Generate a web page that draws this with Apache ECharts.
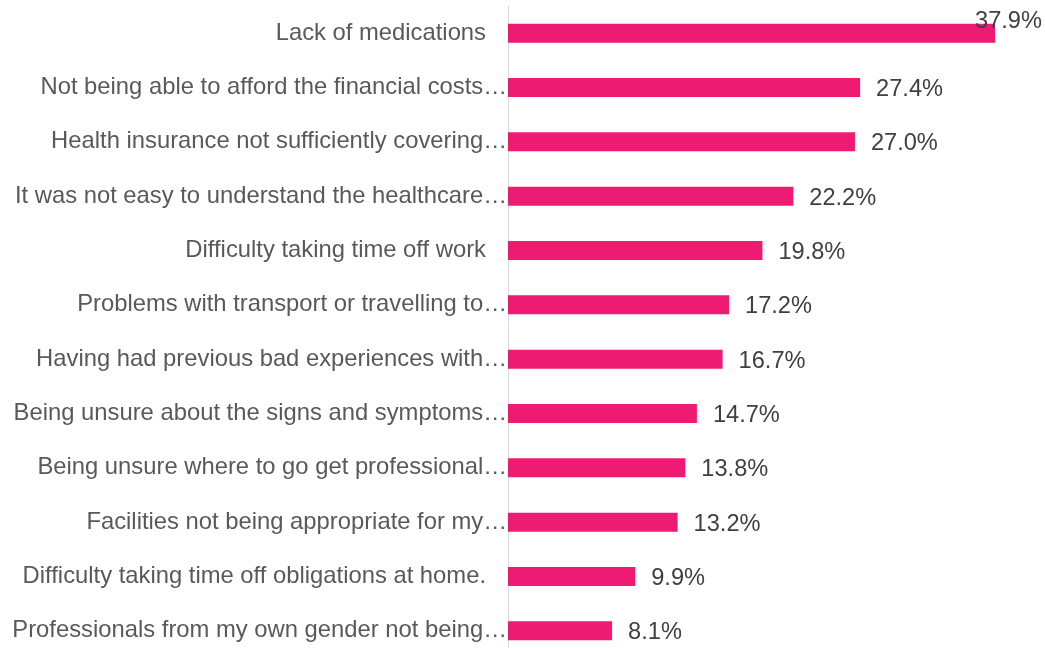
<!DOCTYPE html>
<html>
<head>
<meta charset="utf-8">
<script src="https://cdn.jsdelivr.net/npm/echarts@6/dist/echarts.min.js"></script>
<style>html,body{margin:0;padding:0;background:#fff}#c{width:1045px;height:648px}</style>
</head>
<body>
<div id="c"></div>
<script>
const categories = [
  "Lack of medications",
  "Not being able to afford the financial costs…",
  "Health insurance not sufficiently covering…",
  "It was not easy to understand the healthcare…",
  "Difficulty taking time off work",
  "Problems with transport or travelling to…",
  "Having had previous bad experiences with…",
  "Being unsure about the signs and symptoms…",
  "Being unsure where to go get professional…",
  "Facilities not being appropriate for my…",
  "Difficulty taking time off obligations at home.",
  "Professionals from my own gender not being…"
];
const values = [37.9, 27.4, 27.0, 22.2, 19.8, 17.2, 16.7, 14.7, 13.8, 13.2, 9.9, 8.1];

const FONT = '"Liberation Sans", Arial, sans-serif';
const chart = echarts.init(document.getElementById('c'), null, {renderer: 'canvas'});
const seriesData = values.map((v, i) => {
  const d = {value: v};
  if (i === 0) d.label = {offset: [-36, -12]};
  return d;
});
chart.setOption({
  animation: false,
  grid: {left: 508, right: 23, top: 6, bottom: -10, containLabel: false, outerBoundsMode: 'none'},
  xAxis: {
    type: 'value', min: 0, max: 40, show: false
  },
  yAxis: {
    type: 'category', inverse: true, data: categories,
    axisLine: {show: true, lineStyle: {color: '#d9d9d9', width: 1}},
    axisTick: {show: false},
    axisLabel: {
      margin: 1,
      fontFamily: FONT,
      fontSize: 23.8,
      color: '#595959',
      formatter: function (t) { return t.endsWith('…') ? t : '{p|' + t + '}'; },
      rich: {p: {fontFamily: FONT, fontSize: 23.8, color: '#595959', padding: [0, 21, 0, 0]}}
    }
  },
  series: [{
    type: 'bar',
    data: seriesData,
    barWidth: 19,
    itemStyle: {color: '#ED1B72'},
    label: {
      show: true, position: 'right', distance: 16, offset: [0, 2],
      fontFamily: FONT, fontSize: 23.6, color: '#404040',
      formatter: function (p) { return p.value.toFixed(1) + '%'; }
    }
  }]
});
</script>
</body>
</html>
